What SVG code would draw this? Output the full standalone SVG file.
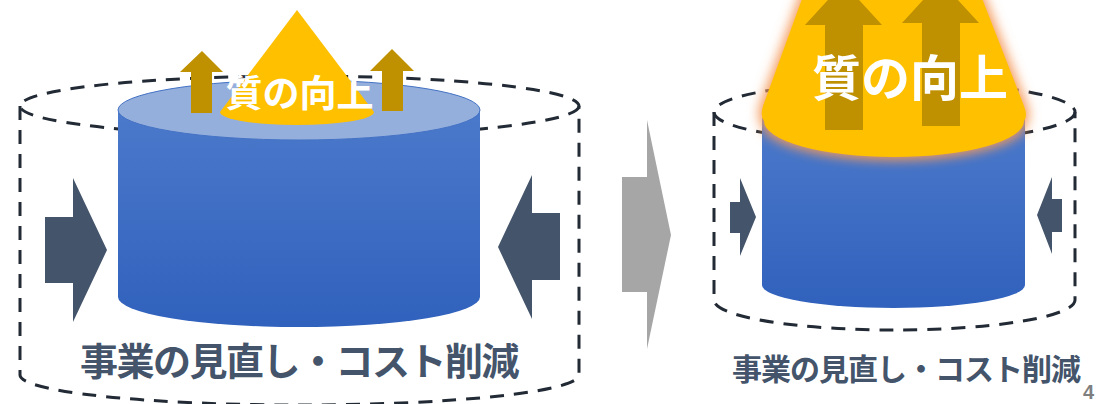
<svg xmlns="http://www.w3.org/2000/svg" width="1104" height="404" viewBox="0 0 1104 404">
  <style>
    .dash { fill: none; stroke: #222A35; stroke-width: 3; stroke-dasharray: 14 10; }
    .navy { fill: #44546A; }
    .gold { fill: #BF9000; }
    .yellow { fill: #FFC000; }
    .jp { font-family: "Noto Sans CJK JP", "Noto Sans", sans-serif; font-weight: 700; text-anchor: middle; }
    .white { fill: #FFFFFF; }
    .label { fill: #44546A; }
  </style>
  <defs>
    <linearGradient id="blueBody" x1="0" y1="0" x2="0" y2="1">
      <stop offset="0" stop-color="#4B79CB"/>
      <stop offset="1" stop-color="#3061BC"/>
    </linearGradient>
    <filter id="glow" x="-30%" y="-30%" width="160%" height="160%">
      <feGaussianBlur stdDeviation="6"/>
    </filter>
  </defs>

  <rect width="1104" height="404" fill="#FFFFFF"/>

  <!-- LEFT: before -->
  <g id="left-frame">
    <ellipse class="dash" cx="299.5" cy="106" rx="279.5" ry="30"/>
    <path class="dash" d="M20,106 L20,375 A279.5,30 0 0 0 579,375 L579,106"/>
  </g>

  <g id="left-cylinder">
    <path d="M118,110 L118,297 A181,30 0 0 0 480,297 L480,110 Z" fill="url(#blueBody)"/>
    <ellipse cx="299" cy="110" rx="181" ry="30" fill="#95AFDD" stroke="#4472C4" stroke-width="1"/>
  </g>

  <g id="left-quality">
    <path class="yellow" d="M297,10 L220,112 A77,13 0 0 0 374,112 Z"/>
    <polygon class="gold" points="191,113 191,72 180,72 202,51 223,72 212,72 212,113"/>
    <polygon class="gold" points="382,111 382,71 370,71 392,49 414,71 403,71 403,111"/>
    <text class="jp white" x="299.5" y="107" font-size="37">質の向上</text>
  </g>

  <g id="left-press-left">
    <polygon class="navy" points="45,217 73,217 73,178 107,250 73,322 73,283 45,283"/>
  </g>
  <g id="left-press-right">
    <polygon class="navy" points="560,213 532,213 532,175 498,247 532,319 532,280 560,280"/>
  </g>

  <g id="left-label">
    <text class="jp label" x="299" y="375" font-size="38" letter-spacing="-1.5">事業の見直し・コスト削減</text>
  </g>

  <!-- connector -->
  <g id="connectors">
    <polygon fill="#A6A6A6" points="622,177 647,177 647,120 671,235 647,349 647,292 622,292"/>
  </g>

  <!-- RIGHT: after -->
  <g id="right-frame">
    <ellipse class="dash" cx="894.5" cy="112" rx="180.5" ry="30"/>
    <path class="dash" d="M714,112 L714,300 A180.5,30 0 0 0 1075,300 L1075,112"/>
  </g>

  <g id="right-cylinder">
    <path d="M762,118 L762,285 A131.5,23 0 0 0 1025,285 L1025,118 Z" fill="url(#blueBody)"/>
  </g>

  <g id="right-quality">
    <path d="M806,-12 L763,106 Q760,116 764,121 A130,36 0 0 0 1024,121 Q1028,116 1024,106 L978,-12 Z" fill="#F49A5C" stroke="#F49A5C" stroke-width="6" filter="url(#glow)"/>
    <path class="yellow" d="M806,-12 L763,106 Q760,116 764,121 A130,36 0 0 0 1024,121 Q1028,116 1024,106 L978,-12 Z"/>
    <polygon class="gold" points="825,130 825,25 805,25 843.5,-17 882,25 863,25 863,130"/>
    <polygon class="gold" points="922,126 922,23 902,23 940.5,-19 979,23 960,23 960,126"/>
    <text class="jp white" x="910" y="96" font-size="49">質の向上</text>
  </g>

  <g id="right-press-left">
    <polygon class="navy" points="730,202 740,202 740,178 756,217 740,256 740,233 730,233"/>
  </g>
  <g id="right-press-right">
    <polygon class="navy" points="1062,199 1052,199 1052,177 1037,215 1052,254 1052,232 1062,232"/>
  </g>

  <g id="right-label">
    <text class="jp label" x="906" y="380" font-size="30" letter-spacing="-1">事業の見直し・コスト削減</text>
  </g>

  <g id="page-number">
    <text x="1083" y="399" font-family="Liberation Sans, Arial, sans-serif" font-weight="700" font-size="20" fill="#7F7F7F">4</text>
  </g>
</svg>
